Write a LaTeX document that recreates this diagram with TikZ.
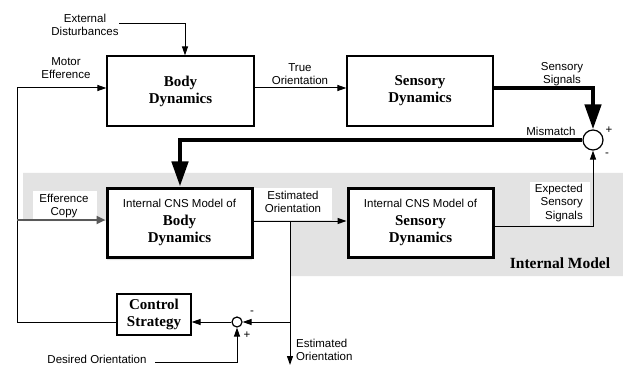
\documentclass[tikz,border=0pt]{standalone}
\usepackage{fontspec}
\setmainfont{Liberation Serif}
\setsansfont{Liberation Sans}
\usetikzlibrary{arrows.meta}
\newcommand{\lab}{\sffamily\mdseries\fontsize{11.5}{13.5}\selectfont}
\newcommand{\bfs}{\rmfamily\bfseries\fontsize{15}{17}\selectfont}
\tikzset{
  blk/.style={draw, line width=1.2pt, fill=white, align=center, font=\bfs, inner sep=0pt},
  iblk/.style={draw, line width=3pt, fill=white, align=center, font=\bfs, inner sep=0pt, minimum width=145pt, minimum height=69pt},
  lbl/.style={font=\lab, align=center, inner sep=0pt},
  wbg/.style={fill=white, inner sep=0pt},
  arr/.style={line width=1pt, -{Triangle[length=9pt,width=6pt]}},
  tarr/.style={line width=4.5pt, -{Triangle[length=25pt,width=16pt]}},
  sumc/.style={draw, circle, line width=1.2pt, fill=white, inner sep=0pt},
  effc/.style={draw=gray!70!black, line width=2.5pt, -{Triangle[length=9pt,width=8pt]}},
}
\begin{document}
\begin{tikzpicture}[x=1pt,y=-1pt]
\useasboundingbox (0,0) rectangle (623,366);
% shaded internal model area
\fill[gray!22] (23,173) -- (623,173) -- (623,276) -- (290,276) -- (290,221) -- (252,221) -- (252,260) -- (107,260) -- (107,221) -- (23,221) -- cycle;
% white label backgrounds
\node[wbg, minimum width=64pt, minimum height=29pt] (effbg) at (65,205) {};
\node[wbg, minimum width=79pt, minimum height=32pt] (estbg) at (292.5,204) {};
\node[wbg, minimum width=60pt, minimum height=43pt] (expbg) at (560,203.5) {};

% blocks
\node[blk, minimum width=147pt, minimum height=70pt] (body) at (180.5,91) {Body\\Dynamics};
\node[blk, minimum width=146pt, minimum height=70pt] (sens) at (420,91) {Sensory\\Dynamics};
\node[iblk] (ibody) at (179.5,222.5) {{\lab Internal CNS Model of}\\[1pt]Body\\Dynamics};
\node[iblk] (isens) at (420.5,222.5) {{\lab Internal CNS Model of}\\[1pt]Sensory\\Dynamics};
\node[blk, minimum width=74pt, minimum height=41pt] (ctrl) at (154,314.5) {Control\\Strategy};
\node[sumc, minimum size=20pt] (sum) at (593,140) {};
\node[sumc, minimum size=10pt] (sumb) at (237,322) {};

% coordinates
\coordinate (ml) at (17,88);
\coordinate (edl) at (119,24);
\coordinate (edc) at (185,24);
\coordinate (ss) at (593,88);
\coordinate (mm) at (180,140);
\coordinate (ec) at (17,220);
\coordinate (eo) at (290,221);
\coordinate (eoend) at (290,365);
\coordinate (ex) at (593,226);
\coordinate (dz) at (155,362);

% connectors
\draw[arr] (edl) -- (edc) -- (body.north -| edc);
\draw[arr] (ctrl.west |- sumb) -| (ml) -- (body.west |- ml);
\draw[arr] (body.east |- ml) -- (sens.west |- ml);
\draw[tarr] (sens.east |- ss) -- (ss) -- (sum.north);
\draw[tarr] (sum.west) -- (mm) -- (ibody.north -| mm);
\draw[effc] (ec) -- (ibody.west |- ec);
\draw[arr] (ibody.east |- eo) -- (isens.west |- eo);
\draw[arr] (eo) -- (eoend);
\draw[arr] (eo |- sumb) -- (sumb.east);
\draw[arr] (isens.east |- ex) -- (ex) -- (sum.south);
\draw[arr] (dz) -| (sumb.south);
\draw[arr] (sumb.west) -- (ctrl.east |- sumb);

% labels
\node[lbl] (tExt) at (85,25) {External\\Disturbances};
\node[lbl] (tMot) at (66,68) {Motor\\Efference};
\node[lbl] (tTrue) at (300,74) {True\\Orientation};
\node[lbl] (tSens) at (562,74) {Sensory\\Signals};
\node[lbl] (tMis) at (551,131) {Mismatch};
\node[lbl] (tP1) at (609,130) {+};
\node[lbl] (tM1) at (607,155) {-};
\node[lbl] (tEff) at (64,206) {Efference\\Copy};
\node[lbl] (tEst) at (293,202) {Estimated\\Orientation};
\node[lbl, align=right, anchor=east] (tExp) at (583,203) {Expected\\Sensory\\Signals};
\node[font=\rmfamily\bfseries\fontsize{15.5}{17}\selectfont, inner sep=0pt] (tIM) at (560,263) {Internal Model};
\node[lbl] (tM2) at (252,313) {-};
\node[lbl] (tP2) at (247,335) {+};
\node[lbl, align=left, anchor=west] (tEst2) at (296,350) {Estimated\\Orientation};
\node[lbl, anchor=base] (tDes) at (97,363) {Desired Orientation};
\end{tikzpicture}
\end{document}
